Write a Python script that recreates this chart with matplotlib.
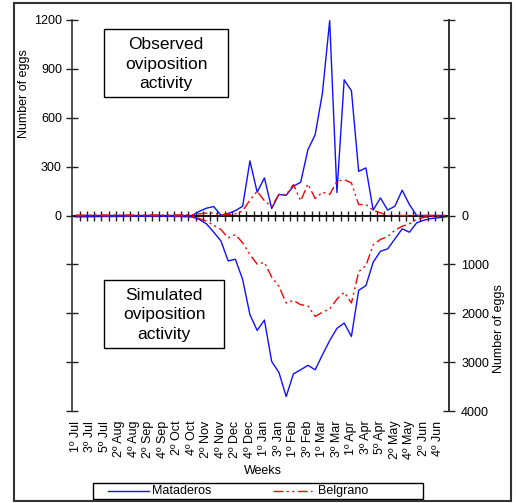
import matplotlib
matplotlib.use("Agg")
import matplotlib.pyplot as plt
from matplotlib.patches import Rectangle
from matplotlib.lines import Line2D
import numpy as np

plt.rcParams['font.family'] = ['Liberation Sans', 'DejaVu Sans']

# ---- data -------------------------------------------------------------
week_labels = ["1º Jul", "3º Jul", "5º Jul", "2º Aug", "4º Aug", "2º Sep", "4º Sep",
               "2º Oct", "4º Oct", "2º Nov", "4º Nov", "2º Dec", "4º Dec", "1º Jan",
               "3º Jan", "1º Feb", "3º Feb", "1º Mar", "3º Mar", "1º Apr", "3º Apr",
               "5º Apr", "2º May", "4º May", "2º Jun", "4º Jun"]

# observed number of eggs (upper panel), weekly, 52 weeks
mataderos_obs = [0, 0, 0, 0, 0, 0, 0, 0, 0, 0, 0, 0, 0, 0, 0, 0, 0, 25, 45, 55,
                 2, 12, 30, 57, 335, 143, 231, 43, 129, 124, 180, 204, 404, 496, 751, 1196,
                 141, 833, 765, 271, 292, 33, 108, 33, 57, 155, 67, 0, 0, 0, 0, 0]
belgrano_obs = [2, 2, 2, 3, 3, 3, 3, 3, 3, 3, 3, 3, 3, 3, 3, 5, 5, 10, 15, 16,
                2, 6, 10, 28, 95, 149, 90, 55, 130, 128, 190, 90, 193, 104, 143, 129,
                210, 220, 200, 67, 67, 33, 16, 0, 0, 0, 0, 0, 0, 0, 0, 0]

# simulated number of eggs (lower panel), weekly, 52 weeks
mataderos_sim = [27, 27, 25, 22, 20, 20, 20, 18, 18, 18, 18, 18, 18, 18, 20, 25, 30, 80, 170, 340,
                 520, 930, 895, 1312, 2030, 2351, 2140, 2986, 3212, 3704, 3240, 3157, 3065, 3157,
                 2850, 2560, 2310, 2200, 2474, 1531, 1435, 957, 732, 683, 478, 273, 342, 150,
                 96, 62, 47, 27]
belgrano_sim = [5, 5, 5, 5, 5, 5, 5, 5, 5, 5, 5, 5, 5, 5, 8, 10, 20, 60, 116, 200,
                287, 458, 390, 560, 800, 995, 960, 1260, 1450, 1790, 1740, 1825, 1850, 2064,
                1980, 1910, 1710, 1572, 1790, 1150, 1025, 600, 490, 430, 300, 220, 170, 75,
                40, 25, 15, 10]

series_names = ['Mataderos', 'Belgrano']
obs_ticks = [0, 300, 600, 900, 1200]
sim_ticks = [0, 1000, 2000, 3000, 4000]

# ---- figure -----------------------------------------------------------
W, H = 516, 503
fig = plt.figure(figsize=(W / 100, H / 100), dpi=100)

def fx(px):
    return px / W

def fy(py):
    return 1 - py / H

ax_left, ax_right, ax_top, ax_bot = 72.3, 449.3, 20, 411
ax = fig.add_axes([fx(ax_left), fy(ax_bot), fx(ax_right - ax_left), (ax_bot - ax_top) / H])

scale = 1200 / 4000.0  # simulated values drawn downward on the same pixel scale
n = len(mataderos_obs)
x = np.arange(n)

blue = '#1010ff'
red = '#ff0000'
dashdotdot = (0, (7, 2.5, 1.5, 2.5, 1.5, 2.5))

ax.plot(x, mataderos_obs, color=blue, lw=1.0, zorder=3)
ax.plot(x, belgrano_obs, color=red, lw=1.0, linestyle=dashdotdot, zorder=3)
ax.plot(x, -np.array(mataderos_sim) * scale, color=blue, lw=1.0, zorder=3)
ax.plot(x, -np.array(belgrano_sim) * scale, color=red, lw=1.0, linestyle=dashdotdot, zorder=3)

ax.set_xlim(-0.5, n - 0.5)
ax.set_ylim(-1200, 1200)

ax.spines['top'].set_visible(False)
ax.spines['bottom'].set_position(('data', 0))
ax.spines['bottom'].set_linewidth(1.3)
ax.spines['bottom'].set_zorder(2)
ax.spines['left'].set_color('#333333')
ax.spines['left'].set_linewidth(1.2)
ax.spines['right'].set_color('#333333')
ax.spines['right'].set_linewidth(1.2)

# weekly tick marks on zero line (between categories)
ax.set_xticks(np.arange(n - 1) + 0.5)
ax.set_xticklabels([])
ax.tick_params(axis='x', direction='inout', length=7, width=1.0, color='#222222')

# left axis: observed
left_ticks = [-1200, -900, -600, -300] + obs_ticks
ax.set_yticks(left_ticks)
ax.set_yticklabels([''] * 4 + [str(v) for v in obs_ticks])
ax.tick_params(axis='y', direction='inout', length=9, width=1.0, labelsize=9, pad=3,
               color='#222222', right=False)

# right axis: simulated
ax2 = ax.twinx()
ax2.set_ylim(-1200, 1200)
for s in ['top', 'bottom', 'left']:
    ax2.spines[s].set_visible(False)
ax2.spines['right'].set_color('#333333')
ax2.spines['right'].set_linewidth(1.2)
right_pos = [1200, 900, 600, 300] + [-v * scale for v in sim_ticks]
ax2.set_yticks(right_pos)
ax2.set_yticklabels([''] * 4 + [str(v) for v in sim_ticks])
ax2.tick_params(axis='y', direction='inout', length=9, width=1.0, labelsize=9, pad=4,
                color='#222222')

# week labels along the bottom
sec = ax.secondary_xaxis(0.0)
sec.set_xticks(np.arange(0, 2 * len(week_labels), 2))
sec.set_xticklabels(week_labels, rotation=90, fontsize=9)
sec.tick_params(axis='x', length=0, pad=7)
sec.spines['bottom'].set_visible(False)

# axis titles
fig.text(fx(24), fy(93.5), 'Number of eggs', rotation=90, ha='center', va='center', fontsize=9)
fig.text(fx(499), fy(328.5), 'Number of eggs', rotation=90, ha='center', va='center', fontsize=9)
fig.text(fx(263), fy(471), 'Weeks', ha='center', va='center', fontsize=9)

# annotation boxes
def note_box(x0, y0, x1, y1, txt):
    fig.patches.append(Rectangle((fx(x0), fy(y1)), fx(x1 - x0), (y1 - y0) / H,
                                 transform=fig.transFigure, fill=True, facecolor='white',
                                 edgecolor='black', lw=1.0, zorder=5))
    fig.text(fx((x0 + x1) / 2), fy((y0 + y1) / 2 + 1), txt, ha='center', va='center',
             fontsize=12.5, linespacing=1.35, zorder=6)

note_box(104, 29, 228, 97, 'Observed\noviposition\nactivity')
note_box(104, 280, 224, 348, 'Simulated\noviposition\nactivity')

# legend (drawn as a box with two line samples)
fig.patches.append(Rectangle((fx(93), fy(499)), fx(423 - 93), 16 / H,
                             transform=fig.transFigure, fill=True, facecolor='white',
                             edgecolor='black', lw=1.0))
leg_y = fy(491)
fig.add_artist(Line2D([fx(108), fx(149)], [leg_y, leg_y], color=blue, lw=1.0,
                      transform=fig.transFigure))
fig.text(fx(152), leg_y, series_names[0], ha='left', va='center', fontsize=9)
fig.add_artist(Line2D([fx(273), fx(312)], [leg_y, leg_y], color=red, lw=1.0,
                      linestyle=dashdotdot, transform=fig.transFigure))
fig.text(fx(318), leg_y, series_names[1], ha='left', va='center', fontsize=9)

# outer chart border
fig.patches.append(Rectangle((fx(14), fy(501)), fx(511 - 14), (501 - 3) / H,
                             transform=fig.transFigure, fill=False,
                             edgecolor='#333333', lw=1.5))

fig.savefig('out.png', dpi=100)
